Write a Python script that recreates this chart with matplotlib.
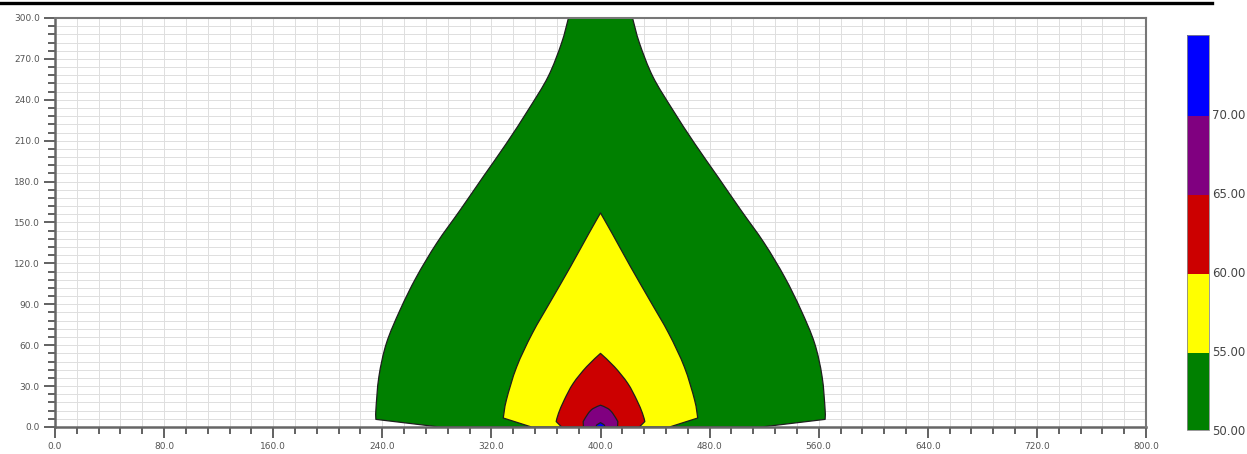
import numpy as np
import matplotlib
matplotlib.use("Agg")
import matplotlib.pyplot as plt
from matplotlib.colors import ListedColormap, BoundaryNorm
from matplotlib.lines import Line2D
from matplotlib.path import Path
from matplotlib.patches import PathPatch, Rectangle
from matplotlib.ticker import NullLocator, FixedLocator, FixedFormatter
import matplotlib as mpl

# ---------------- data ----------------
center_x = 400.0
levels = [50, 55, 60, 65, 70, 75]
level_colors = ["#008000", "#ffff00", "#cc0000", "#800080", "#0000ff"]
cbar_ticks = [50, 55, 60, 65, 70]

# contour outlines: height above ground (y) and half-width from the centre line
# first entry = where the outline meets the ground, the rest = the curved side
green_y = [0, 5.6, 12.5, 36.9, 61.4, 85.8, 110, 135, 159, 183.6, 208, 232.6, 257, 281.5, 300]
green_hw = [118, 164.7, 164.7, 162.5, 157, 147, 135, 120, 103, 86, 69, 53, 38.4, 28.6, 23.5]

yellow_y = [0, 6.6, 19.8, 44, 68.7, 93.2, 117.6, 142, 157]
yellow_hw = [50.6, 71.3, 69, 61.5, 50, 36, 22, 8.5, 0]

red_y = [0, 4, 10, 19.8, 32, 44.2, 54]
red_hw = [28.5, 32.5, 30.8, 26.6, 20, 10.2, 0]

purple_y = [0, 4, 10, 13.5, 16]
purple_hw = [12.5, 12.7, 9, 5.5, 0]

blue_y = [0, 1.5, 3.2]
blue_hw = [3.3, 2.8, 0]

x_ticks = [0, 80, 160, 240, 320, 400, 480, 560, 640, 720, 800]
y_ticks = [0, 30, 60, 90, 120, 150, 180, 210, 240, 270, 300]


def smooth_segments(pts):
    """Catmull-Rom curve through pts, as cubic Bezier path pieces."""
    pts = np.asarray(pts, float)
    n = len(pts)
    verts, codes = [], []
    for i in range(n - 1):
        p0 = pts[i - 1] if i > 0 else pts[i]
        p1 = pts[i]
        p2 = pts[i + 1]
        p3 = pts[i + 2] if i + 2 < n else pts[i + 1]
        c1 = p1 + (p2 - p0) / 6.0
        c2 = p2 - (p3 - p1) / 6.0
        verts += [tuple(c1), tuple(c2), tuple(p2)]
        codes += [Path.CURVE4] * 3
    return verts, codes


def contour_path(ys, hws, cx):
    ys = np.asarray(ys, float)
    hws = np.asarray(hws, float)
    right = np.column_stack([cx + hws[1:], ys[1:]])
    left = np.column_stack([cx - hws[1:], ys[1:]])[::-1]
    verts = [(cx - hws[0], ys[0]), (cx + hws[0], ys[0]), tuple(right[0])]
    codes = [Path.MOVETO, Path.LINETO, Path.LINETO]
    v, c = smooth_segments(right)
    verts += v
    codes += c
    verts.append(tuple(left[0]))
    codes.append(Path.LINETO)
    v, c = smooth_segments(left)
    verts += v
    codes += c
    verts.append((cx - hws[0], ys[0]))
    codes.append(Path.CLOSEPOLY)
    return Path(verts, codes)


# ---------------- figure ----------------
W, H = 1247, 454
fig = plt.figure(figsize=(W / 100, H / 100), dpi=100)
fig.patch.set_facecolor("white")

ax = fig.add_axes([55 / W, 1 - 427 / H, (1146 - 55) / W, (427 - 18) / H])
ax.set_xlim(0, 800)
ax.set_ylim(0, 300)

ax.set_xticks(np.arange(0, 801, 16), minor=True)
ax.set_yticks(np.arange(0, 301, 6), minor=True)
ax.set_xticks(x_ticks)
ax.set_yticks(y_ticks)
ax.grid(True, which="both", color="#dedede", lw=0.7, zorder=0)
ax.set_axisbelow(True)

shapes = [
    (green_y, green_hw, level_colors[0]),
    (yellow_y, yellow_hw, level_colors[1]),
    (red_y, red_hw, level_colors[2]),
    (purple_y, purple_hw, level_colors[3]),
    (blue_y, blue_hw, level_colors[4]),
]
for ys, hws, col in shapes:
    patch = PathPatch(contour_path(ys, hws, center_x), facecolor=col,
                      edgecolor="#1e1e1e", lw=0.9, zorder=2, joinstyle="round")
    ax.add_patch(patch)

ax.set_xticklabels([f"{v:.1f}" for v in x_ticks])
ax.set_yticklabels([f"{v:.1f}" for v in y_ticks])
ax.tick_params(axis="both", which="major", direction="out", length=8, width=1.3,
               color="#555555", labelsize=6.5, labelcolor="#555555", pad=3)
ax.tick_params(axis="both", which="minor", direction="out", length=5, width=1.3,
               color="#555555")

for side in ["left", "bottom"]:
    ax.spines[side].set_color("#666666")
    ax.spines[side].set_linewidth(1.8)
for side in ["top", "right"]:
    ax.spines[side].set_color("#777777")
    ax.spines[side].set_linewidth(1.5)
    ax.spines[side].set_zorder(5)

# colour bar
cax = fig.add_axes([1187 / W, 1 - 430 / H, 22 / W, (430 - 35) / H])
cmap = ListedColormap(level_colors)
norm = BoundaryNorm(levels, cmap.N)
cb = mpl.colorbar.ColorbarBase(cax, cmap=cmap, norm=norm, boundaries=levels,
                               orientation="vertical")
cb.ax.yaxis.set_major_locator(FixedLocator(cbar_ticks))
cb.ax.yaxis.set_major_formatter(FixedFormatter([f"{v:.2f}" for v in cbar_ticks]))
cb.ax.yaxis.set_minor_locator(NullLocator())
cb.ax.yaxis.get_offset_text().set_visible(False)
cb.ax.tick_params(which="both", length=0, labelsize=8.5, labelcolor="#444444", pad=2)
cb.outline.set_visible(False)
cb.solids.set_edgecolor("face")
cax.add_patch(Rectangle((0, 0), 1, 1, transform=cax.transAxes, fill=False,
                        edgecolor="#888888", lw=0.6, clip_on=False))

# top black rule of the page
fig.add_artist(Line2D([0, 1212 / W], [1 - 3 / H, 1 - 3 / H], color="black", lw=2.4,
                      transform=fig.transFigure))

fig.savefig("out.png", dpi=100, facecolor="white")
